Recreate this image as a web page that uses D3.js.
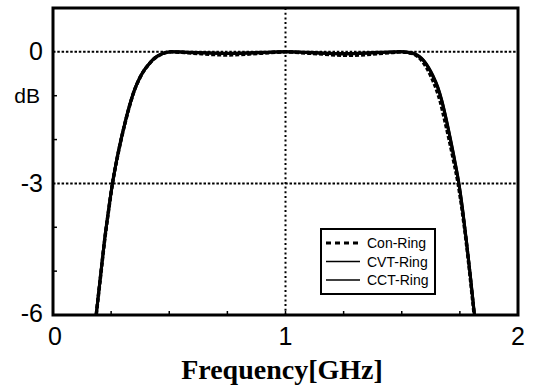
<!DOCTYPE html>
<html>
<head>
<meta charset="utf-8">
<script src="https://cdn.jsdelivr.net/npm/d3@7"></script>
<style>
  body { margin: 0; background: #fff; }
  svg { display: block; }
  .tick-label { font-family: "Liberation Sans", Arial, sans-serif; font-size: 25px; fill: #000; }
  .legend text { font-family: "Liberation Sans", Arial, sans-serif; font-size: 14px; fill: #000; }
</style>
</head>
<body>
<svg width="533" height="386"></svg>
<script>
// frequency in GHz, response in dB
var cvtFreq = [0.17, 0.186, 0.205, 0.222, 0.239, 0.256, 0.275, 0.293, 0.31, 0.33, 0.35, 0.37, 0.39, 0.41, 0.43,
               0.45, 0.47, 0.49, 0.51, 0.6, 0.75, 0.9, 1.0, 1.1, 1.25, 1.4, 1.5, 1.53, 1.555, 1.575, 1.595, 1.615,
               1.635, 1.655, 1.672, 1.69, 1.708, 1.727, 1.746, 1.762, 1.778, 1.795, 1.813, 1.83];
var cvtDb = [-6.8, -6, -5.1, -4.3, -3.62, -3, -2.45, -2, -1.62, -1.22, -0.88, -0.63, -0.44, -0.3, -0.18,
             -0.1, -0.045, -0.012, 0, -0.01, -0.03, -0.01, 0, -0.01, -0.04, -0.01, 0, -0.01, -0.04, -0.1, -0.2, -0.35,
             -0.55, -0.8, -1.1, -1.5, -1.95, -2.45, -3, -3.6, -4.3, -5.1, -6, -6.85];

var cctFreq = [0.17, 0.186, 0.205, 0.222, 0.239, 0.256, 0.275, 0.293, 0.31, 0.33, 0.35, 0.37, 0.39, 0.41, 0.43,
               0.45, 0.47, 0.49, 0.51, 0.6, 0.75, 0.9, 1.0, 1.1, 1.25, 1.4, 1.5, 1.53, 1.555, 1.575, 1.595, 1.615,
               1.635, 1.655, 1.672, 1.69, 1.708, 1.727, 1.746, 1.762, 1.778, 1.795, 1.813, 1.83];
var cctDb = [-6.8, -5.97, -5.07, -4.27, -3.6, -2.98, -2.43, -1.98, -1.6, -1.2, -0.87, -0.62, -0.43, -0.29, -0.17,
             -0.09, -0.04, -0.01, 0, -0.02, -0.04, -0.02, 0, -0.02, -0.05, -0.02, 0, -0.02, -0.05, -0.11, -0.21, -0.37,
             -0.57, -0.82, -1.12, -1.52, -1.97, -2.47, -3.02, -3.62, -4.32, -5.12, -6.02, -6.85];

var conFreq = [0.17, 0.186, 0.205, 0.222, 0.239, 0.256, 0.275, 0.293, 0.31, 0.33, 0.35, 0.37, 0.39, 0.41, 0.43,
               0.45, 0.47, 0.49, 0.51, 0.6, 0.75, 0.9, 1.0, 1.1, 1.28, 1.42, 1.5, 1.53, 1.552, 1.57, 1.589, 1.608,
               1.628, 1.648, 1.666, 1.684, 1.703, 1.723, 1.743, 1.76, 1.777, 1.794, 1.812, 1.83];
var conDb = [-6.8, -6, -5.1, -4.3, -3.62, -3, -2.45, -2, -1.62, -1.22, -0.88, -0.63, -0.44, -0.3, -0.18,
             -0.1, -0.045, -0.012, 0, -0.03, -0.07, -0.03, 0, -0.03, -0.08, -0.03, 0, -0.02, -0.05, -0.11, -0.22, -0.37,
             -0.58, -0.84, -1.14, -1.54, -1.98, -2.48, -3.02, -3.62, -4.32, -5.12, -6.02, -6.85];

var xTicks = [0, 1, 2];
var yTicks = [0, -3, -6];
var yLabels = ["0", "-3", "-6"];
var legendNames = ["Con-Ring", "CVT-Ring", "CCT-Ring"];

var svg = d3.select("svg"),
    margin = {top: 8, right: 15, bottom: 71, left: 53},
    width = 533 - margin.left - margin.right,
    height = 386 - margin.top - margin.bottom,
    g = svg.append("g").attr("transform", "translate(" + margin.left + "," + margin.top + ")");

var x = d3.scaleLinear().domain([0, 2]).range([0, width]),
    y = d3.scaleLinear().domain([-6, 1]).range([height, 0]);

var line = d3.line()
    .curve(d3.curveMonotoneX)
    .x(function(d) { return x(d[0]); })
    .y(function(d) { return y(d[1]); });

function pairs(f, v) {
    return f.map(function(d, i) { return [d, v[i]]; });
}

svg.append("defs").append("clipPath").attr("id", "clip")
    .append("rect").attr("width", width).attr("height", height);

// dotted grid
g.selectAll(".hgrid")
    .data([0, -3])
    .enter().append("line")
    .attr("x1", 0).attr("x2", width)
    .attr("y1", function(d) { return y(d); })
    .attr("y2", function(d) { return y(d); })
    .attr("stroke", "#000")
    .attr("stroke-width", 2)
    .attr("stroke-dasharray", "2.5,1.8");

g.append("line")
    .attr("x1", x(1)).attr("x2", x(1))
    .attr("y1", 0).attr("y2", height)
    .attr("stroke", "#000")
    .attr("stroke-width", 2)
    .attr("stroke-dasharray", "2,2.7");

// small inward ticks
g.selectAll(".xminor")
    .data(d3.range(0.25, 2, 0.25))
    .enter().append("line")
    .attr("x1", function(d) { return x(d); })
    .attr("x2", function(d) { return x(d); })
    .attr("y1", height).attr("y2", height - 4)
    .attr("stroke", "#000").attr("stroke-width", 1.5);

g.selectAll(".yminor")
    .data([-1, -2, -4, -5])
    .enter().append("line")
    .attr("x1", 0).attr("x2", 4)
    .attr("y1", function(d) { return y(d); })
    .attr("y2", function(d) { return y(d); })
    .attr("stroke", "#000").attr("stroke-width", 1.5);

// curves
var plot = g.append("g").attr("clip-path", "url(#clip)");

plot.append("path")
    .datum(pairs(cvtFreq, cvtDb))
    .attr("d", line)
    .attr("fill", "none").attr("stroke", "#000").attr("stroke-width", 3);

plot.append("path")
    .datum(pairs(cctFreq, cctDb))
    .attr("d", line)
    .attr("fill", "none").attr("stroke", "#000").attr("stroke-width", 3);

plot.append("path")
    .datum(pairs(conFreq, conDb))
    .attr("d", line)
    .attr("fill", "none").attr("stroke", "#000").attr("stroke-width", 3.5)
    .attr("stroke-dasharray", "4,2");

// frame
g.append("rect")
    .attr("width", width).attr("height", height)
    .attr("fill", "none").attr("stroke", "#000").attr("stroke-width", 3);

// tick labels
g.selectAll(".xl")
    .data(xTicks)
    .enter().append("text")
    .attr("class", "tick-label")
    .attr("x", function(d) { return x(d) + (d === 0 ? 2 : 0); })
    .attr("y", 337)
    .attr("text-anchor", "middle")
    .text(function(d) { return d; });

var yOff = [8.5, 9, 7];
g.selectAll(".yl")
    .data(yTicks)
    .enter().append("text")
    .attr("class", "tick-label")
    .attr("x", -10)
    .attr("y", function(d, i) { return y(d) + yOff[i]; })
    .attr("text-anchor", "end")
    .text(function(d, i) { return yLabels[i]; });

g.append("text")
    .attr("class", "tick-label")
    .style("font-size", "21px")
    .attr("x", -13)
    .attr("y", y(-1) + 7.5)
    .attr("text-anchor", "end")
    .text("dB");

svg.append("text")
    .attr("x", 282)
    .attr("y", 379)
    .attr("text-anchor", "middle")
    .style("font-family", "'Liberation Serif', 'Times New Roman', serif")
    .style("font-weight", "bold")
    .style("font-size", "28px")
    .text("Frequency[GHz]");

// legend
var legend = svg.append("g").attr("class", "legend");
legend.append("rect")
    .attr("x", 321).attr("y", 229)
    .attr("width", 114).attr("height", 65)
    .attr("fill", "#fff").attr("stroke", "#000").attr("stroke-width", 2);

var row = legend.selectAll(".row")
    .data(legendNames)
    .enter().append("g")
    .attr("transform", function(d, i) { return "translate(0," + (243 + i * 18.5) + ")"; });

row.append("line")
    .attr("x1", 326).attr("x2", 360)
    .attr("stroke", "#000")
    .attr("stroke-width", function(d, i) { return i === 0 ? 3 : 1.3; })
    .attr("stroke-dasharray", function(d, i) { return i === 0 ? "5,4" : null; });

row.append("text")
    .attr("x", 367)
    .attr("y", 5)
    .text(function(d) { return d; });
</script>
</body>
</html>
